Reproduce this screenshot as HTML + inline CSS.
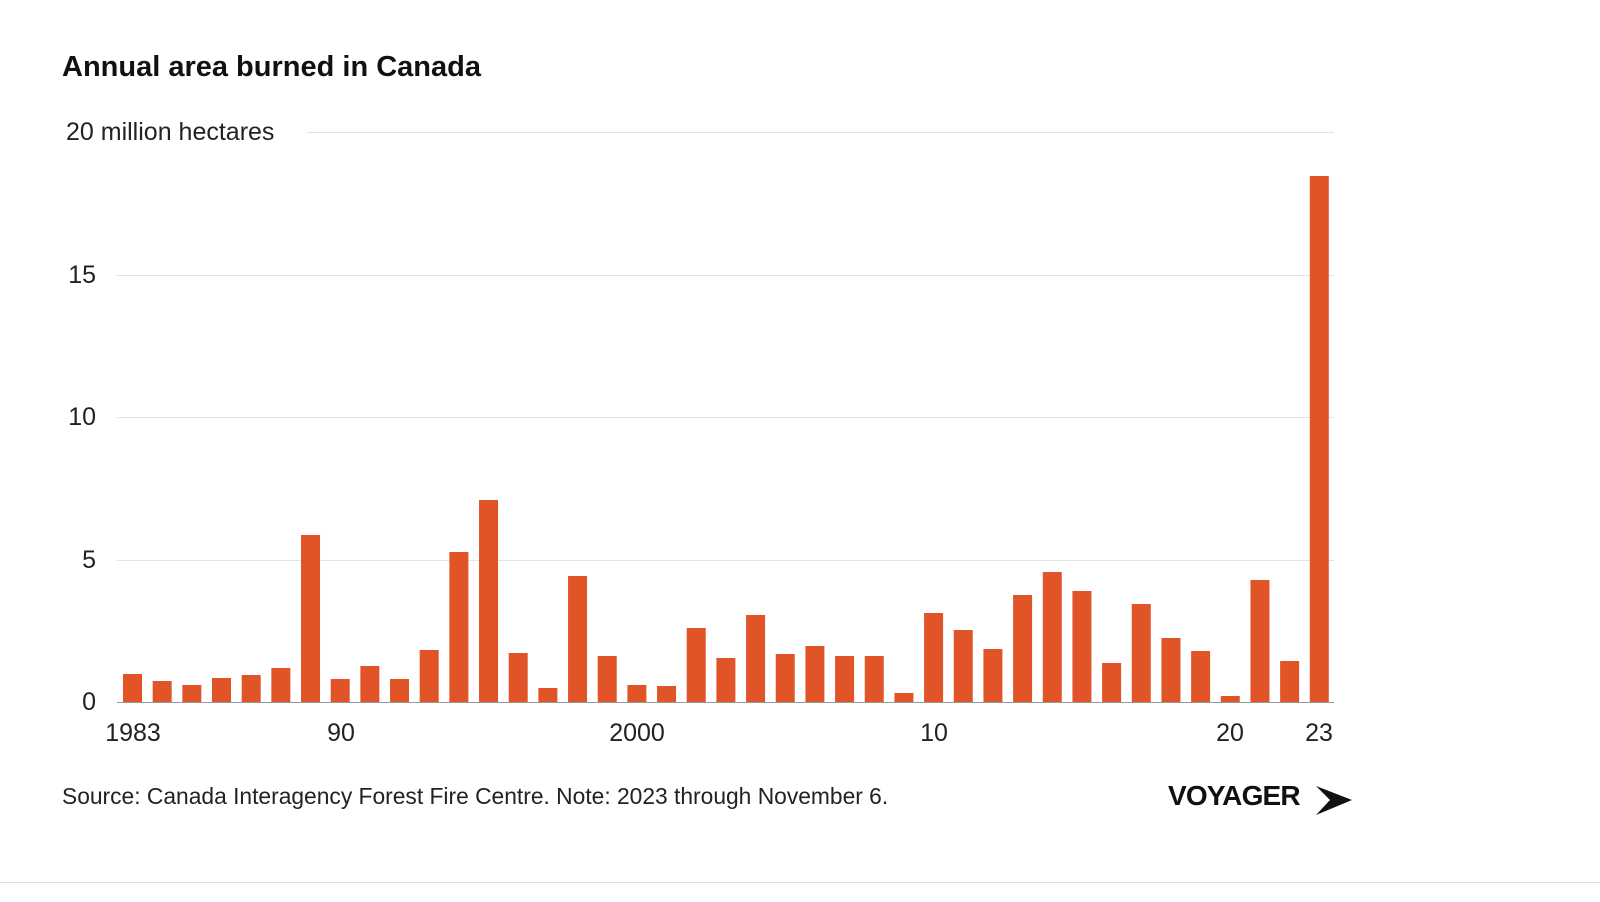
<!DOCTYPE html>
<html><head><style>
html,body{margin:0;padding:0;background:#fff;width:1600px;height:902px;overflow:hidden}
svg{display:block;font-family:"Liberation Sans",Arial,sans-serif}
</style></head><body>
<svg width="1600" height="902" viewBox="0 0 1600 902">
<text x="62" y="76" font-size="29" font-weight="bold" fill="#111">Annual area burned in Canada</text>
<g stroke="#e3e3e3" stroke-width="1">
<line x1="307" x2="1334" y1="132.5" y2="132.5"/>
<line x1="117" x2="1334" y1="275.5" y2="275.5"/>
<line x1="117" x2="1334" y1="417.5" y2="417.5"/>
<line x1="117" x2="1334" y1="560.5" y2="560.5"/>
</g>
<g font-size="25" fill="#222">
<text x="66" y="140">20 million hectares</text>
<text x="96" y="283" text-anchor="end">15</text>
<text x="96" y="425" text-anchor="end">10</text>
<text x="96" y="568" text-anchor="end">5</text>
<text x="96" y="710" text-anchor="end">0</text>
<text x="133" y="741" text-anchor="middle">1983</text>
<text x="341" y="741" text-anchor="middle">90</text>
<text x="637" y="741" text-anchor="middle">2000</text>
<text x="934" y="741" text-anchor="middle">10</text>
<text x="1230" y="741" text-anchor="middle">20</text>
<text x="1319" y="741" text-anchor="middle">23</text>
</g>
<g id="bars" fill="#e05427"></g>
<line x1="117" x2="1334" y1="702.5" y2="702.5" stroke="#999" stroke-width="1"/>
<text x="62" y="804" font-size="22.8" fill="#222">Source: Canada Interagency Forest Fire Centre. Note: 2023 through November 6.</text>
<text x="1168" y="805" font-size="28" font-weight="bold" fill="#111" letter-spacing="-0.8">VOYAGER</text>
<polygon points="1316,786 1352,800 1316,815 1330,800" fill="#111"/>
<line x1="0" x2="1600" y1="882.5" y2="882.5" stroke="#ddd"/>
</svg>
<script>
var tops=[674,681,685,678,675,668,535,679,666,679,650,552,500,653,688,576,656,685,686,628,658,615,654,646,656,656,693,613,630,649,595,572,591,663,604,638,651,696,580,661,176];
var g=document.getElementById('bars'),s='';
for(var i=0;i<tops.length;i++){var c=132.5+i*29.67;s+='<rect x="'+(c-9.5)+'" y="'+tops[i]+'" width="19" height="'+(702-tops[i])+'"/>';}
g.innerHTML=s;
</script>
</body></html>
